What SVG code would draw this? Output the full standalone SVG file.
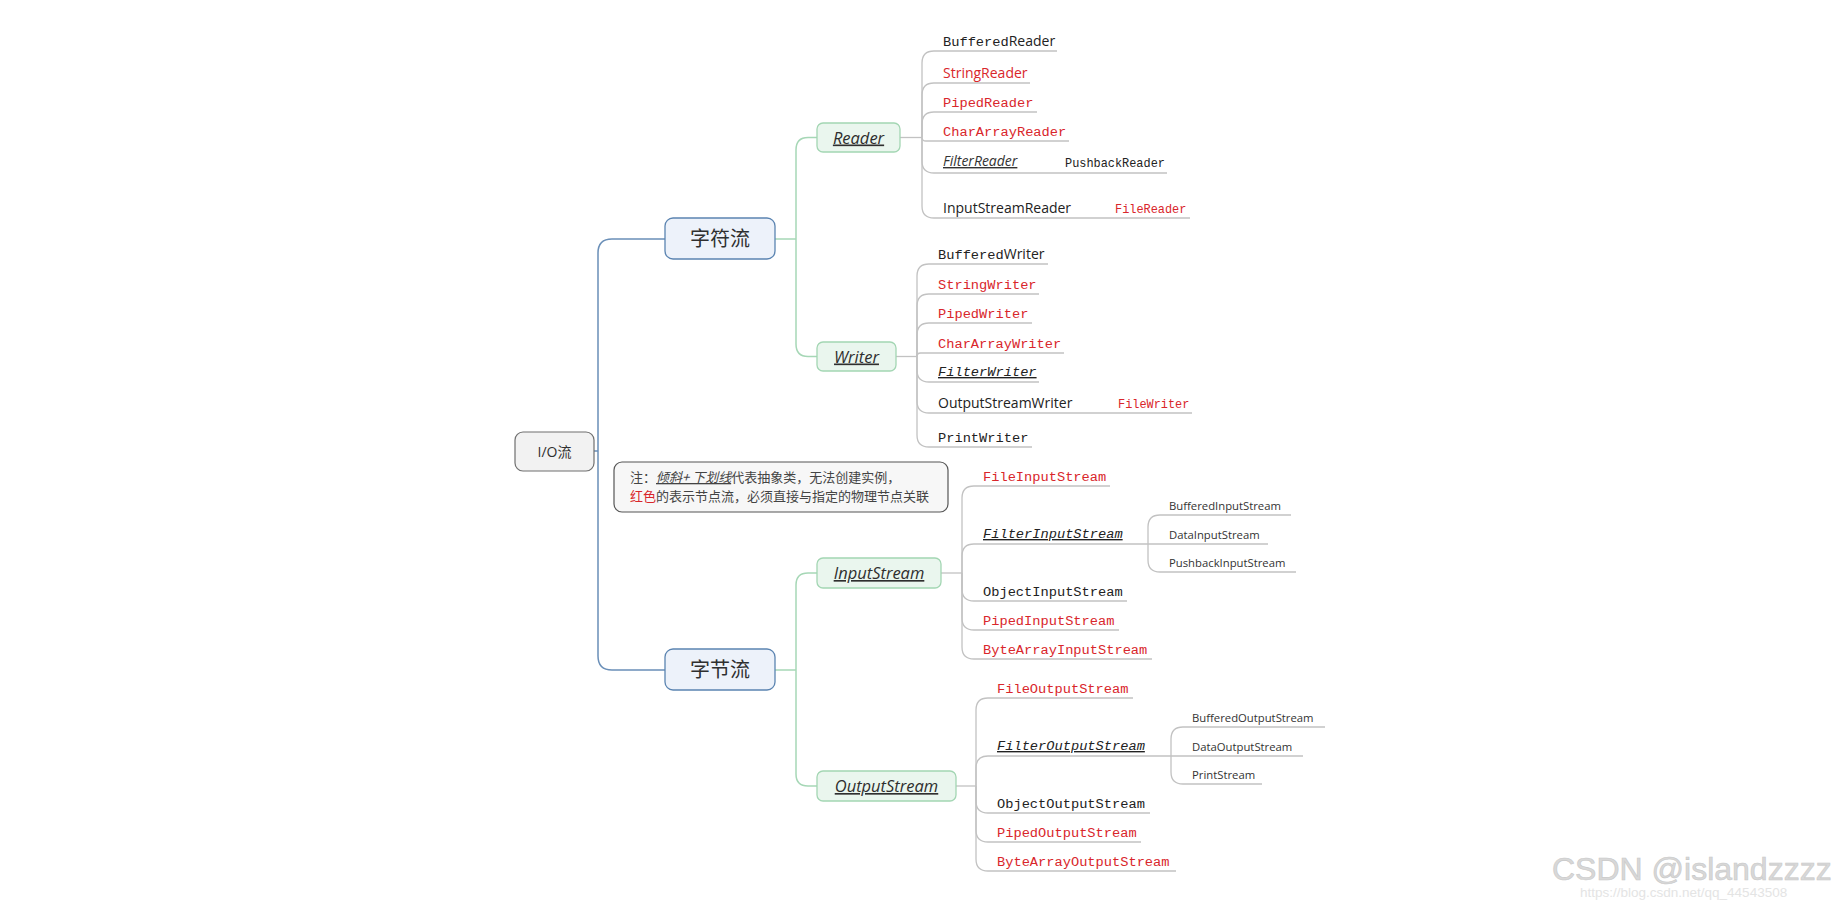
<svg xmlns="http://www.w3.org/2000/svg" width="1840" height="902" viewBox="0 0 1840 902">
<style>
.bg{fill:#ffffff}
.root rect{fill:#f2f2f2;stroke:#6f6f6f;stroke-width:1.2}
.main rect{fill:#edf2fa;stroke:#5b84b1;stroke-width:1.3}
.sub rect{fill:#eaf6ee;stroke:#a3d6b3;stroke-width:1.3}
.note rect{fill:#f7f7f7;stroke:#555;stroke-width:1.2}
.nt{font-family:"Open Sans","Noto Sans CJK SC",sans-serif;fill:#2f2f2f;text-anchor:middle}
.cjk{font-family:"Noto Sans CJK SC",sans-serif}
.abs{font-style:italic;text-decoration:underline}
.mono{font-family:"Liberation Mono",monospace;font-size:13.7px;fill:#222}
.sans{font-family:"Open Sans",sans-serif;font-size:14px;fill:#222}
.small{font-family:"Liberation Mono",monospace;font-size:11.9px;fill:#222}
.leaf2{font-family:"Open Sans",sans-serif;font-size:11.3px;fill:#333}
.red{fill:#d9262b}
.blue{fill:none;stroke:#6a8fb8;stroke-width:1.5}
.green{fill:none;stroke:#a6d7b6;stroke-width:1.5}
.gray{fill:none;stroke:#c2c2c2;stroke-width:1.3}
</style>
<rect class="bg" x="0" y="0" width="1840" height="902"/>

<g id="connectors">
  <path class="blue" d="M594 451 H598"/>
  <path class="blue" d="M598 451 V253 Q598 239 612 239 H665"/>
  <path class="blue" d="M598 451 V656 Q598 670 612 670 H665"/>

  <path class="green" d="M775 239 H796"/>
  <path class="green" d="M796 239 V150 Q796 137.5 808 137.5 H817"/>
  <path class="green" d="M796 239 V344 Q796 356.5 808 356.5 H817"/>
  <path class="green" d="M775 670 H796"/>
  <path class="green" d="M796 670 V585 Q796 573 808 573 H817"/>
  <path class="green" d="M796 670 V774 Q796 786 808 786 H817"/>

  <path class="gray" d="M900 137.5 H922"/>
  <path class="gray" d="M922 137.5 V63 Q922 51 934 51 H1057"/>
  <path class="gray" d="M922 137.5 V95 Q922 83 934 83 H1030"/>
  <path class="gray" d="M922 137.5 V124 Q922 112 934 112 H1037"/>
  <path class="gray" d="M922 137.5 Q922 141 926 141 H1069"/>
  <path class="gray" d="M922 137.5 V161 Q922 173 934 173 H1167"/>
  <path class="gray" d="M922 137.5 V206 Q922 218 934 218 H1190"/>

  <path class="gray" d="M896 356.5 H917"/>
  <path class="gray" d="M917 356.5 V276 Q917 264 929 264 H1048"/>
  <path class="gray" d="M917 356.5 V306 Q917 294 929 294 H1039"/>
  <path class="gray" d="M917 356.5 V335 Q917 323 929 323 H1032"/>
  <path class="gray" d="M917 356.5 Q917 353 920.5 353 H1064"/>
  <path class="gray" d="M917 356.5 V370 Q917 382 929 382 H1039"/>
  <path class="gray" d="M917 356.5 V401 Q917 413 929 413 H1192"/>
  <path class="gray" d="M917 356.5 V435 Q917 447 929 447 H1032"/>

  <path class="gray" d="M941 573 H962"/>
  <path class="gray" d="M962 573 V498 Q962 486 974 486 H1110"/>
  <path class="gray" d="M962 573 V556 Q962 544 974 544 H1148"/>
  <path class="gray" d="M962 573 V589 Q962 601 974 601 H1127"/>
  <path class="gray" d="M962 573 V618 Q962 630 974 630 H1119"/>
  <path class="gray" d="M962 573 V647 Q962 659 974 659 H1152"/>
  <path class="gray" d="M1148 544 V527 Q1148 515 1160 515 H1291"/>
  <path class="gray" d="M1148 544 H1268"/>
  <path class="gray" d="M1148 544 V560 Q1148 572 1160 572 H1296"/>

  <path class="gray" d="M956 786 H976"/>
  <path class="gray" d="M976 786 V710 Q976 698 988 698 H1133"/>
  <path class="gray" d="M976 786 V768 Q976 756 988 756 H1171"/>
  <path class="gray" d="M976 786 V801 Q976 813 988 813 H1150"/>
  <path class="gray" d="M976 786 V830 Q976 842 988 842 H1141"/>
  <path class="gray" d="M976 786 V859 Q976 871 988 871 H1176"/>
  <path class="gray" d="M1171 756 V739 Q1171 727 1183 727 H1325"/>
  <path class="gray" d="M1171 756 H1303"/>
  <path class="gray" d="M1171 756 V772 Q1171 784 1183 784 H1262"/>
</g>

<g id="node-io" class="root">
  <rect x="515" y="432" width="79" height="39" rx="8"/>
  <text class="nt" x="554.5" y="456.5" font-size="14">I/O流</text>
</g>
<g id="node-char" class="main">
  <rect x="665" y="218" width="110" height="41" rx="8"/>
  <text class="nt cjk" x="720" y="246" font-size="20">字符流</text>
</g>
<g id="node-byte" class="main">
  <rect x="665" y="649" width="110" height="41" rx="8"/>
  <text class="nt cjk" x="720" y="677" font-size="20">字节流</text>
</g>
<g id="node-reader" class="sub">
  <rect x="817" y="123" width="83" height="29" rx="6"/>
  <text class="nt abs" x="858.5" y="143.5" font-size="16.5">Reader</text>
</g>
<g id="node-writer" class="sub">
  <rect x="817" y="342" width="79" height="29" rx="6"/>
  <text class="nt abs" x="856.5" y="362.5" font-size="16.5">Writer</text>
</g>
<g id="node-inputstream" class="sub">
  <rect x="817" y="558" width="124" height="30" rx="6"/>
  <text class="nt abs" x="879" y="579" font-size="16.5">InputStream</text>
</g>
<g id="node-outputstream" class="sub">
  <rect x="817" y="771" width="139" height="30" rx="6"/>
  <text class="nt abs" x="886.5" y="792" font-size="16.5">OutputStream</text>
</g>

<g id="node-note" class="note">
  <rect x="614" y="462" width="334" height="50" rx="8"/>
  <text class="cjk" x="630" y="482" font-size="13" fill="#444">注：<tspan class="abs">倾斜+ 下划线</tspan>代表抽象类，无法创建实例，</text>
  <text class="cjk" x="630" y="501" font-size="13" fill="#444"><tspan fill="#d9262b">红色</tspan>的表示节点流，必须直接与指定的物理节点关联</text>
</g>

<g id="reader-children">
  <text x="943" y="46"><tspan class="mono">Buffered</tspan><tspan class="sans">Reader</tspan></text>
  <text class="sans red" x="943" y="78">StringReader</text>
  <text class="mono red" x="943" y="107">PipedReader</text>
  <text class="mono red" x="943" y="136">CharArrayReader</text>
  <text class="sans abs" x="943" y="166" style="fill:#333">FilterReader</text>
  <text class="small" x="1065" y="167">PushbackReader</text>
  <text class="sans" x="943" y="213">InputStreamReader</text>
  <text class="small red" x="1115" y="213">FileReader</text>
</g>

<g id="writer-children">
  <text x="938" y="259"><tspan class="mono">Buffered</tspan><tspan class="sans">Writer</tspan></text>
  <text class="mono red" x="938" y="289">StringWriter</text>
  <text class="mono red" x="938" y="318">PipedWriter</text>
  <text class="mono red" x="938" y="348">CharArrayWriter</text>
  <text class="mono abs" x="938" y="376">FilterWriter</text>
  <text class="sans" x="938" y="408">OutputStreamWriter</text>
  <text class="small red" x="1118" y="408">FileWriter</text>
  <text class="mono" x="938" y="442">PrintWriter</text>
</g>

<g id="inputstream-children">
  <text class="mono red" x="983" y="481">FileInputStream</text>
  <text class="mono abs" x="983" y="538">FilterInputStream</text>
  <text class="mono" x="983" y="596">ObjectInputStream</text>
  <text class="mono red" x="983" y="625">PipedInputStream</text>
  <text class="mono red" x="983" y="654">ByteArrayInputStream</text>
  <text class="leaf2" x="1169" y="510">BufferedInputStream</text>
  <text class="leaf2" x="1169" y="539">DataInputStream</text>
  <text class="leaf2" x="1169" y="567">PushbackInputStream</text>
</g>

<g id="outputstream-children">
  <text class="mono red" x="997" y="693">FileOutputStream</text>
  <text class="mono abs" x="997" y="750">FilterOutputStream</text>
  <text class="mono" x="997" y="808">ObjectOutputStream</text>
  <text class="mono red" x="997" y="837">PipedOutputStream</text>
  <text class="mono red" x="997" y="866">ByteArrayOutputStream</text>
  <text class="leaf2" x="1192" y="722">BufferedOutputStream</text>
  <text class="leaf2" x="1192" y="751">DataOutputStream</text>
  <text class="leaf2" x="1192" y="779">PrintStream</text>
</g>

<g id="watermark">
  <text x="1580" y="897" font-family="Liberation Sans,sans-serif" font-size="13.5" fill="#e4e4e4">https://blog.csdn.net/qq_44543508</text>
  <text x="1552" y="880" font-family="Liberation Sans,sans-serif" font-size="32" fill="#d8d8d8" stroke="#c8c8c8" stroke-width="0.6">CSDN @islandzzzz</text>
</g>
</svg>
